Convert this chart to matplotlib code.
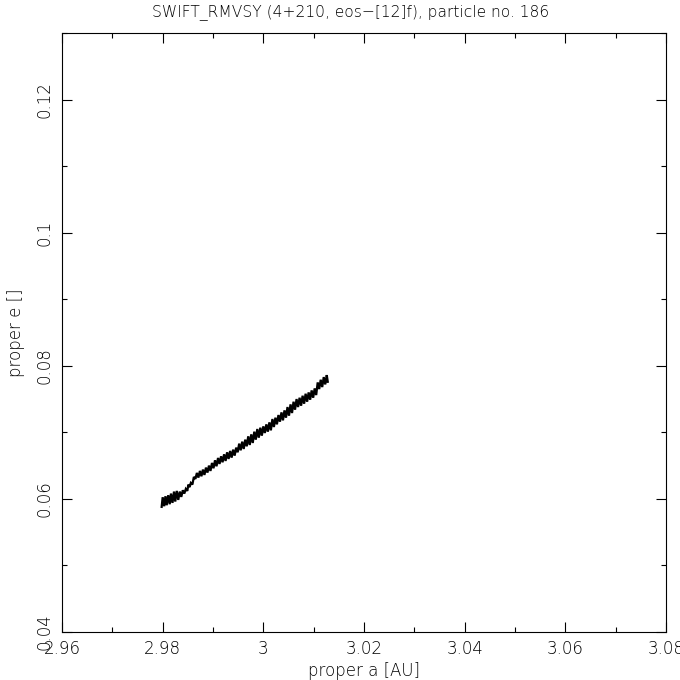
import matplotlib
matplotlib.use("Agg")
import matplotlib.pyplot as plt
from matplotlib.ticker import MultipleLocator

title = "SWIFT_RMVSY (4+210, eos\u2212[12]f), particle no. 186"
xlabel = "proper a [AU]"
ylabel = "proper e []"

proper_a = [
    2.97980, 2.98000, 2.98030, 2.98055, 2.98080, 2.98110, 2.98140, 2.98165,
    2.98195, 2.98225, 2.98250, 2.98280, 2.98310, 2.98340, 2.98370, 2.98400,
    2.98430, 2.98460, 2.98490, 2.98510, 2.98530, 2.98560, 2.98590, 2.98620,
    2.98650, 2.98680, 2.98710, 2.98740, 2.98770, 2.98800, 2.98830, 2.98860,
    2.98890, 2.98920, 2.98950, 2.98980, 2.99010, 2.99040, 2.99070, 2.99100,
    2.99130, 2.99160, 2.99190, 2.99220, 2.99250, 2.99280, 2.99310, 2.99340,
    2.99370, 2.99400, 2.99430, 2.99460, 2.99490, 2.99520, 2.99550, 2.99580,
    2.99610, 2.99640, 2.99670, 2.99700, 2.99730, 2.99760, 2.99790, 2.99820,
    2.99850, 2.99880, 2.99910, 2.99940, 2.99970, 3.00000, 3.00030, 3.00060,
    3.00090, 3.00120, 3.00150, 3.00180, 3.00210, 3.00240, 3.00270, 3.00300,
    3.00330, 3.00360, 3.00390, 3.00420, 3.00450, 3.00480, 3.00510, 3.00540,
    3.00570, 3.00600, 3.00630, 3.00660, 3.00690, 3.00720, 3.00750, 3.00780,
    3.00810, 3.00840, 3.00870, 3.00900, 3.00930, 3.00960, 3.00990, 3.01020,
    3.01050, 3.01080, 3.01110, 3.01140, 3.01170, 3.01200, 3.01230, 3.01260,
    3.01280,
]
proper_e = [
    0.05880, 0.06025, 0.05890, 0.06040, 0.05905, 0.06055, 0.05920, 0.06080,
    0.05940, 0.06110, 0.05960, 0.06120, 0.05985, 0.06110, 0.06030, 0.06130,
    0.06080, 0.06150, 0.06120, 0.06215, 0.06175, 0.06240, 0.06215, 0.06330,
    0.06300, 0.06390, 0.06320, 0.06420, 0.06340, 0.06440, 0.06360, 0.06470,
    0.06395, 0.06500, 0.06420, 0.06540, 0.06460, 0.06580, 0.06490, 0.06615,
    0.06525, 0.06640, 0.06550, 0.06670, 0.06570, 0.06700, 0.06600, 0.06720,
    0.06620, 0.06740, 0.06650, 0.06770, 0.06700, 0.06830, 0.06730, 0.06860,
    0.06750, 0.06890, 0.06790, 0.06940, 0.06810, 0.06970, 0.06840, 0.07010,
    0.06890, 0.07050, 0.06920, 0.07070, 0.06950, 0.07090, 0.06990, 0.07120,
    0.07010, 0.07150, 0.07030, 0.07200, 0.07080, 0.07220, 0.07120, 0.07260,
    0.07160, 0.07300, 0.07180, 0.07330, 0.07220, 0.07380, 0.07250, 0.07420,
    0.07290, 0.07460, 0.07340, 0.07500, 0.07380, 0.07520, 0.07400, 0.07550,
    0.07430, 0.07580, 0.07460, 0.07600, 0.07490, 0.07630, 0.07520, 0.07660,
    0.07560, 0.07750, 0.07650, 0.07790, 0.07680, 0.07830, 0.07720, 0.07860,
    0.07760,
]

x_ticks = [2.96, 2.98, 3.0, 3.02, 3.04, 3.06, 3.08]
x_ticklabels = ["2.96", "2.98", "3", "3.02", "3.04", "3.06", "3.08"]
y_ticks = [0.04, 0.06, 0.08, 0.1, 0.12]
y_ticklabels = ["0.04", "0.06", "0.08", "0.1", "0.12"]

plt.rcParams['font.family'] = ['DejaVu Sans']
plt.rcParams['font.weight'] = 'light'
plt.rcParams['axes.titleweight'] = 'light'
plt.rcParams['axes.labelweight'] = 'light'
fig = plt.figure(figsize=(6.8, 6.8), dpi=100)
ax = fig.add_axes([62/680, 48/680, 604/680, 599/680])

ax.plot(proper_a, proper_e, color="black", linewidth=1.6,
        solid_joinstyle="miter")

ax.set_xlim(2.96, 3.08)
ax.set_ylim(0.04, 0.13)
ax.set_xticks(x_ticks)
ax.set_xticklabels(x_ticklabels)
ax.set_yticks(y_ticks)
ax.set_yticklabels(y_ticklabels, rotation=90, va="center")
ax.xaxis.set_minor_locator(MultipleLocator(0.01))
ax.yaxis.set_minor_locator(MultipleLocator(0.01))
ax.tick_params(which="both", direction="in", top=True, right=True,
               width=0.8, colors="black", labelsize=12)
ax.tick_params(which="major", length=7.2, pad=6)
ax.tick_params(which="minor", length=3.6)
for s in ax.spines.values():
    s.set_linewidth(0.8)

ax.set_title(title, fontsize=11.2, pad=12, fontweight="light", x=0.478)
ax.set_xlabel(xlabel, fontsize=12, labelpad=3, fontweight="light")
ax.set_ylabel(ylabel, fontsize=12, labelpad=8, fontweight="light")

fig.savefig("out.png", dpi=100)
